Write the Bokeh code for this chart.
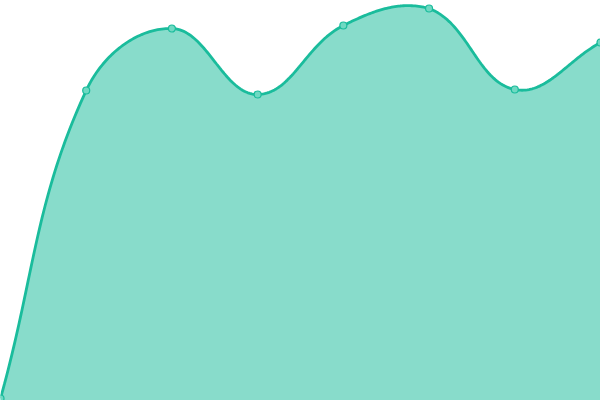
import numpy as np
from bokeh.plotting import figure
from bokeh.models import Range1d
from bokeh.embed import file_html
from bokeh.resources import INLINE

# data
categories = [0, 1, 2, 3, 4, 5, 6, 7]
values = [2, 310, 372, 306, 375, 392, 311, 358]

LINE = "#1abc9c"
W, H = 600, 400
X0, X1 = 0, 7
Y0, Y1 = 0, 400
TENSION = 0.4


def spline_curve(xs, ys, n=50):
    # tension spline computed in screen space, then mapped back to data space
    sxp = (np.asarray(xs, float) - X0) / (X1 - X0) * W
    syp = (np.asarray(ys, float) - Y0) / (Y1 - Y0) * H
    pts = list(zip(sxp, syp))
    m = len(pts)
    cps = []
    for i in range(m):
        prev = pts[max(i - 1, 0)]
        cur = pts[i]
        nxt = pts[min(i + 1, m - 1)]
        d01 = np.hypot(cur[0] - prev[0], cur[1] - prev[1])
        d12 = np.hypot(nxt[0] - cur[0], nxt[1] - cur[1])
        s01 = d01 / (d01 + d12) if d01 + d12 else 0
        s12 = d12 / (d01 + d12) if d01 + d12 else 0
        fa, fb = TENSION * s01, TENSION * s12
        cp_prev = (cur[0] - fa * (nxt[0] - prev[0]), cur[1] - fa * (nxt[1] - prev[1]))
        cp_next = (cur[0] + fb * (nxt[0] - prev[0]), cur[1] + fb * (nxt[1] - prev[1]))
        cp_prev = (min(max(cp_prev[0], 0), W), min(max(cp_prev[1], 0), H))
        cp_next = (min(max(cp_next[0], 0), W), min(max(cp_next[1], 0), H))
        cps.append((cp_prev, cp_next))
    ox, oy = [], []
    t = np.linspace(0, 1, n, endpoint=False)
    for i in range(m - 1):
        p0 = pts[i]; p3 = pts[i + 1]
        p1 = cps[i][1]; p2 = cps[i + 1][0]
        a = (1 - t) ** 3; b = 3 * (1 - t) ** 2 * t; c = 3 * (1 - t) * t ** 2; d = t ** 3
        ox.extend(a * p0[0] + b * p1[0] + c * p2[0] + d * p3[0])
        oy.extend(a * p0[1] + b * p1[1] + c * p2[1] + d * p3[1])
    ox.append(pts[-1][0]); oy.append(pts[-1][1])
    ox = np.array(ox) / W * (X1 - X0) + X0
    oy = np.array(oy) / H * (Y1 - Y0) + Y0
    return ox, oy


sx, sy = spline_curve(categories, values)

p = figure(width=W, height=H, output_backend="svg", toolbar_location=None,
           x_range=Range1d(X0, X1), y_range=Range1d(Y0, Y1),
           min_border=0, min_border_left=0, min_border_right=0,
           min_border_top=0, min_border_bottom=0)
p.axis.visible = False
p.grid.visible = False
p.outline_line_color = None
p.background_fill_color = "white"
p.border_fill_color = "white"

p.varea(x=sx, y1=np.zeros_like(sy), y2=sy, fill_color=LINE, fill_alpha=0.52)
p.line(sx, sy, line_color=LINE, line_width=2.8)
p.scatter(categories, values, size=7, fill_color="#6fd9c2", line_color=LINE,
          line_width=1.2)

open("out.html", "w").write(file_html(p, INLINE))
